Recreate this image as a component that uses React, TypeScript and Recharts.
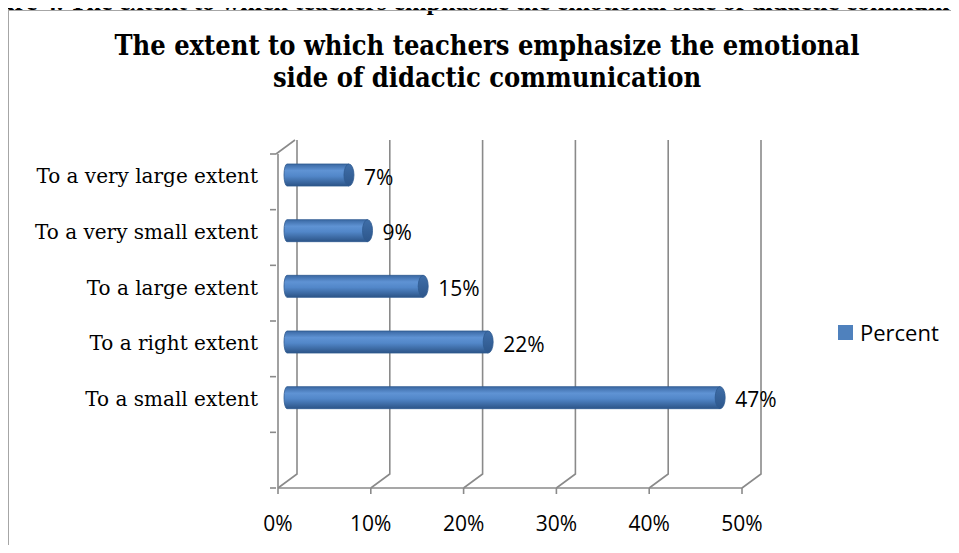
import { BarChart, Bar, XAxis, YAxis, CartesianGrid, LabelList } from 'recharts';

const categories = [
  'To a very large extent',
  'To a very small extent',
  'To a large extent',
  'To a right extent',
  'To a small extent',
];
const percents = [7, 9, 15, 22, 47];
const xTicks = [0, 10, 20, 30, 40, 50];

const data = categories.map((name, i) => ({ name, value: percents[i] }));

const GRID = '#8a8a8a';
const DX = 19; // depth offset of back wall
const DY = -14;
const SLOT = (488 - 154) / 6;
const SANS = '"Open Sans", sans-serif';
const SERIF = '"DejaVu Serif", serif';

// back wall gridline + floor diagonal for each x tick
const GridLine = (props: any) => {
  const { x1, y1, y2 } = props;
  return (
    <polyline
      points={`${x1},${y2} ${x1 + DX},${y2 + DY} ${x1 + DX},${y1 + DY}`}
      fill="none"
      stroke={GRID}
      strokeWidth={1.6}
    />
  );
};

const CategoryTick = (props: any) => {
  const { x, y, payload, index } = props;
  const ax = x + 6; // axis line
  return (
    <g>
      <line x1={ax - 6} y1={y - SLOT / 2} x2={ax} y2={y - SLOT / 2} stroke={GRID} strokeWidth={1.6} />
      {index === categories.length - 1 && (
        <>
          <line x1={ax - 6} y1={y + SLOT / 2} x2={ax} y2={y + SLOT / 2} stroke={GRID} strokeWidth={1.6} />
          <line x1={ax - 6} y1={y + SLOT * 1.5} x2={ax} y2={y + SLOT * 1.5} stroke={GRID} strokeWidth={1.6} />
        </>
      )}
      {index === 0 && (
        <line x1={ax} y1={y - SLOT / 2} x2={ax + DX} y2={y - SLOT / 2 + DY} stroke={GRID} strokeWidth={1.6} />
      )}
      <text x={ax - 18} y={y - 4} textAnchor="end" dominantBaseline="middle" fontFamily={SERIF} fontSize={20} fill="#000">
        {payload.value}
      </text>
    </g>
  );
};

const ValueTick = (props: any) => {
  const { x, payload } = props;
  return (
    <g>
      <line x1={x} y1={488} x2={x} y2={494} stroke={GRID} strokeWidth={1.6} />
      <text x={x} y={531} textAnchor="middle" fontFamily={SANS} fontSize={21} fill="#000">
        {payload.value}%
      </text>
    </g>
  );
};

const Cylinder = (props: any) => {
  const { x, y, width, height } = props;
  const bx = x + 6;
  const by = y - 7;
  const r = height / 2;
  const ex = 5;
  return (
    <g>
      <path
        d={`M${bx + 3},${by} L${bx + width},${by} L${bx + width},${by + height} L${bx + 3},${by + height} A3,${r} 0 0 1 ${bx + 3},${by} Z`}
        fill="url(#cyl)"
        stroke="#2f5b91"
        strokeWidth={0.8}
      />
      <ellipse cx={bx + width} cy={by + r} rx={ex} ry={r} fill="url(#cap)" stroke="#2f5b91" strokeWidth={0.8} />
    </g>
  );
};

const ValueLabel = (props: any) => {
  const { x, y, width, height, value } = props;
  return (
    <text
      x={x + width + 21}
      y={y + height / 2 - 3}
      dominantBaseline="middle"
      fontFamily={SANS}
      fontSize={21}
      fill="#000"
    >
      {value}%
    </text>
  );
};

export default function App() {
  return (
    <div style={{ position: 'relative', width: 959, height: 553, margin: -8, overflow: 'hidden', background: '#fff' }}>
      <div
        style={{
          position: 'absolute',
          top: -9,
          left: -36,
          whiteSpace: 'nowrap',
          fontFamily: '"Liberation Serif", serif',
          fontWeight: 'bold',
          fontSize: 26,
          lineHeight: '22px',
        }}
      >
        Figure 4. The extent to which teachers emphasize the emotional side of didactic communication
      </div>
      <div
        style={{
          position: 'absolute',
          left: 8,
          top: 10,
          width: 1000,
          height: 600,
          border: '1.5px solid #a6a6a6',
          background: 'transparent',
        }}
      />
      <div
        style={{
          position: 'absolute',
          left: 0,
          width: 974,
          top: 30,
          textAlign: 'center',
          fontFamily: '"DejaVu Serif Condensed", "DejaVu Serif", serif',
          fontStretch: 'condensed',
          fontWeight: 'bold',
          fontSize: 27,
          lineHeight: '32px',
        }}
      >
        The extent to which teachers emphasize the emotional
        <br />
        side of didactic communication
      </div>
      <div style={{ position: 'absolute', left: 838, top: 319, display: 'flex', alignItems: 'center' }}>
        <div style={{ width: 15, height: 15, background: '#4f81bd', marginRight: 7 }} />
        <span style={{ fontFamily: SANS, fontSize: 22, lineHeight: '26px' }}>Percent</span>
      </div>
      <div style={{ position: 'absolute', left: 0, top: 0 }}>
        <BarChart
          width={959}
          height={553}
          data={data}
          layout="vertical"
          margin={{ top: 154, right: 217, bottom: 35, left: 0 }}
          barSize={22}
        >
          <defs>
            <linearGradient id="cyl" x1="0" y1="0" x2="0" y2="1">
              <stop offset="0%" stopColor="#3a68a3" />
              <stop offset="30%" stopColor="#5f93d4" />
              <stop offset="55%" stopColor="#5287c9" />
              <stop offset="100%" stopColor="#2c5487" />
            </linearGradient>
            <linearGradient id="cap" x1="0" y1="0" x2="0" y2="1">
              <stop offset="0%" stopColor="#3f6ea8" />
              <stop offset="100%" stopColor="#2d568b" />
            </linearGradient>
          </defs>
          <CartesianGrid horizontal={false} vertical={GridLine} />
          <XAxis
            type="number"
            domain={[0, 50]}
            ticks={xTicks}
            height={30}
            axisLine={{ stroke: GRID, strokeWidth: 1.6 }}
            tickLine={false}
            tick={ValueTick}
            interval={0}
          />
          <YAxis
            type="category"
            dataKey="name"
            width={278}
            padding={{ top: 0, bottom: SLOT }}
            axisLine={{ stroke: GRID, strokeWidth: 1.6 }}
            tickLine={false}
            tick={CategoryTick}
            interval={0}
          />
          <Bar dataKey="value" isAnimationActive={false} shape={Cylinder}>
            <LabelList dataKey="value" content={ValueLabel} />
          </Bar>
        </BarChart>
      </div>
    </div>
  );
}
